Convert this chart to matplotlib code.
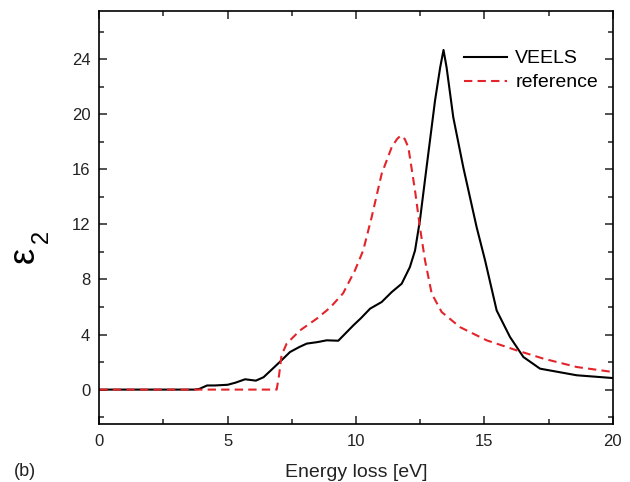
import matplotlib
matplotlib.use("Agg")
import matplotlib.pyplot as plt
from matplotlib.ticker import MultipleLocator

plt.rcParams["font.family"] = ["Liberation Sans", "DejaVu Sans"]

# VEELS curve (black, solid)
veels_x = [0, 3.7, 3.9, 4.2, 4.5, 5.0, 5.3, 5.68, 6.1, 6.4, 6.8, 7.1, 7.43, 7.8,
           8.08, 8.5, 8.86, 9.31, 9.6, 9.9, 10.2, 10.55, 11.0, 11.39, 11.78, 12.1,
           12.3, 12.49, 12.75, 13.08, 13.28, 13.41, 13.53, 13.79, 14.18, 14.7,
           15.03, 15.48, 16.0, 16.52, 17.17, 18.6, 20]
veels_y = [0, 0, 0.05, 0.3, 0.3, 0.35, 0.5, 0.75, 0.65, 0.9, 1.6, 2.13, 2.73, 3.1,
           3.34, 3.45, 3.58, 3.55, 4.1, 4.67, 5.2, 5.88, 6.36, 7.08, 7.69, 8.9,
           10.1, 12.28, 16.15, 21.0, 23.4, 24.67, 23.4, 19.78, 16.15, 11.8,
           9.38, 5.75, 3.82, 2.37, 1.52, 1.04, 0.84]

# reference curve (red, dashed)
ref_x = [0, 6.91, 7.0, 7.1, 7.3, 7.82, 8.47, 8.99, 9.5, 9.96, 10.28, 10.61, 11.0,
         11.39, 11.6, 11.74, 11.9, 12.04, 12.3, 12.49, 12.69, 12.95, 13.34, 14.05,
         15.09, 16.26, 17.3, 18.6, 20]
ref_y = [0, 0, 1.0, 2.5, 3.34, 4.3, 5.15, 5.95, 7.0, 8.66, 10.1, 12.52, 15.67,
         17.6, 18.2, 18.45, 18.2, 17.6, 14.46, 11.8, 9.38, 6.97, 5.63, 4.54,
         3.58, 2.85, 2.25, 1.64, 1.28]

fig = plt.figure(figsize=(6.3, 4.82), dpi=100)
ax = fig.add_axes([0.1576, 0.1203, 0.8149, 0.8569])

ax.plot(veels_x, veels_y, color="black", lw=1.5, label="VEELS")
ax.plot(ref_x, ref_y, color="#e3242b", lw=1.5, dashes=(4, 2.5), label="reference")

ax.set_xlim(0, 20)
ax.set_ylim(-2.5, 27.5)
ax.xaxis.set_major_locator(MultipleLocator(5))
ax.xaxis.set_minor_locator(MultipleLocator(2.5))
ax.yaxis.set_major_locator(MultipleLocator(4))
ax.yaxis.set_minor_locator(MultipleLocator(2))
ax.tick_params(which="both", direction="in", top=True, right=True, width=1.1,
               labelsize=12, colors="#222222")
ax.tick_params(which="major", length=6)
ax.tick_params(which="minor", length=3.5)
ax.tick_params(axis="x", pad=7)
ax.tick_params(axis="y", pad=6.5)
for s in ax.spines.values():
    s.set_linewidth(1.2)

ax.set_xlabel("Energy loss [eV]", fontsize=14, labelpad=11, color="#222222")

# y label: epsilon with a large subscript 2
fig.text(0.038, 0.471, "ε", fontsize=26, rotation=90, ha="center", va="center")
fig.text(0.066, 0.509, "2", fontsize=17, rotation=90, ha="center", va="center")

ax.legend(loc="upper left", bbox_to_anchor=(0.710, 0.906), frameon=False,
          fontsize=14, handlelength=2.2, handletextpad=0.45, borderpad=0,
          borderaxespad=0, labelspacing=0.33)

fig.text(0.022, 0.012, "(b)", fontsize=13, color="#222222")

fig.savefig("out.png", dpi=100)
